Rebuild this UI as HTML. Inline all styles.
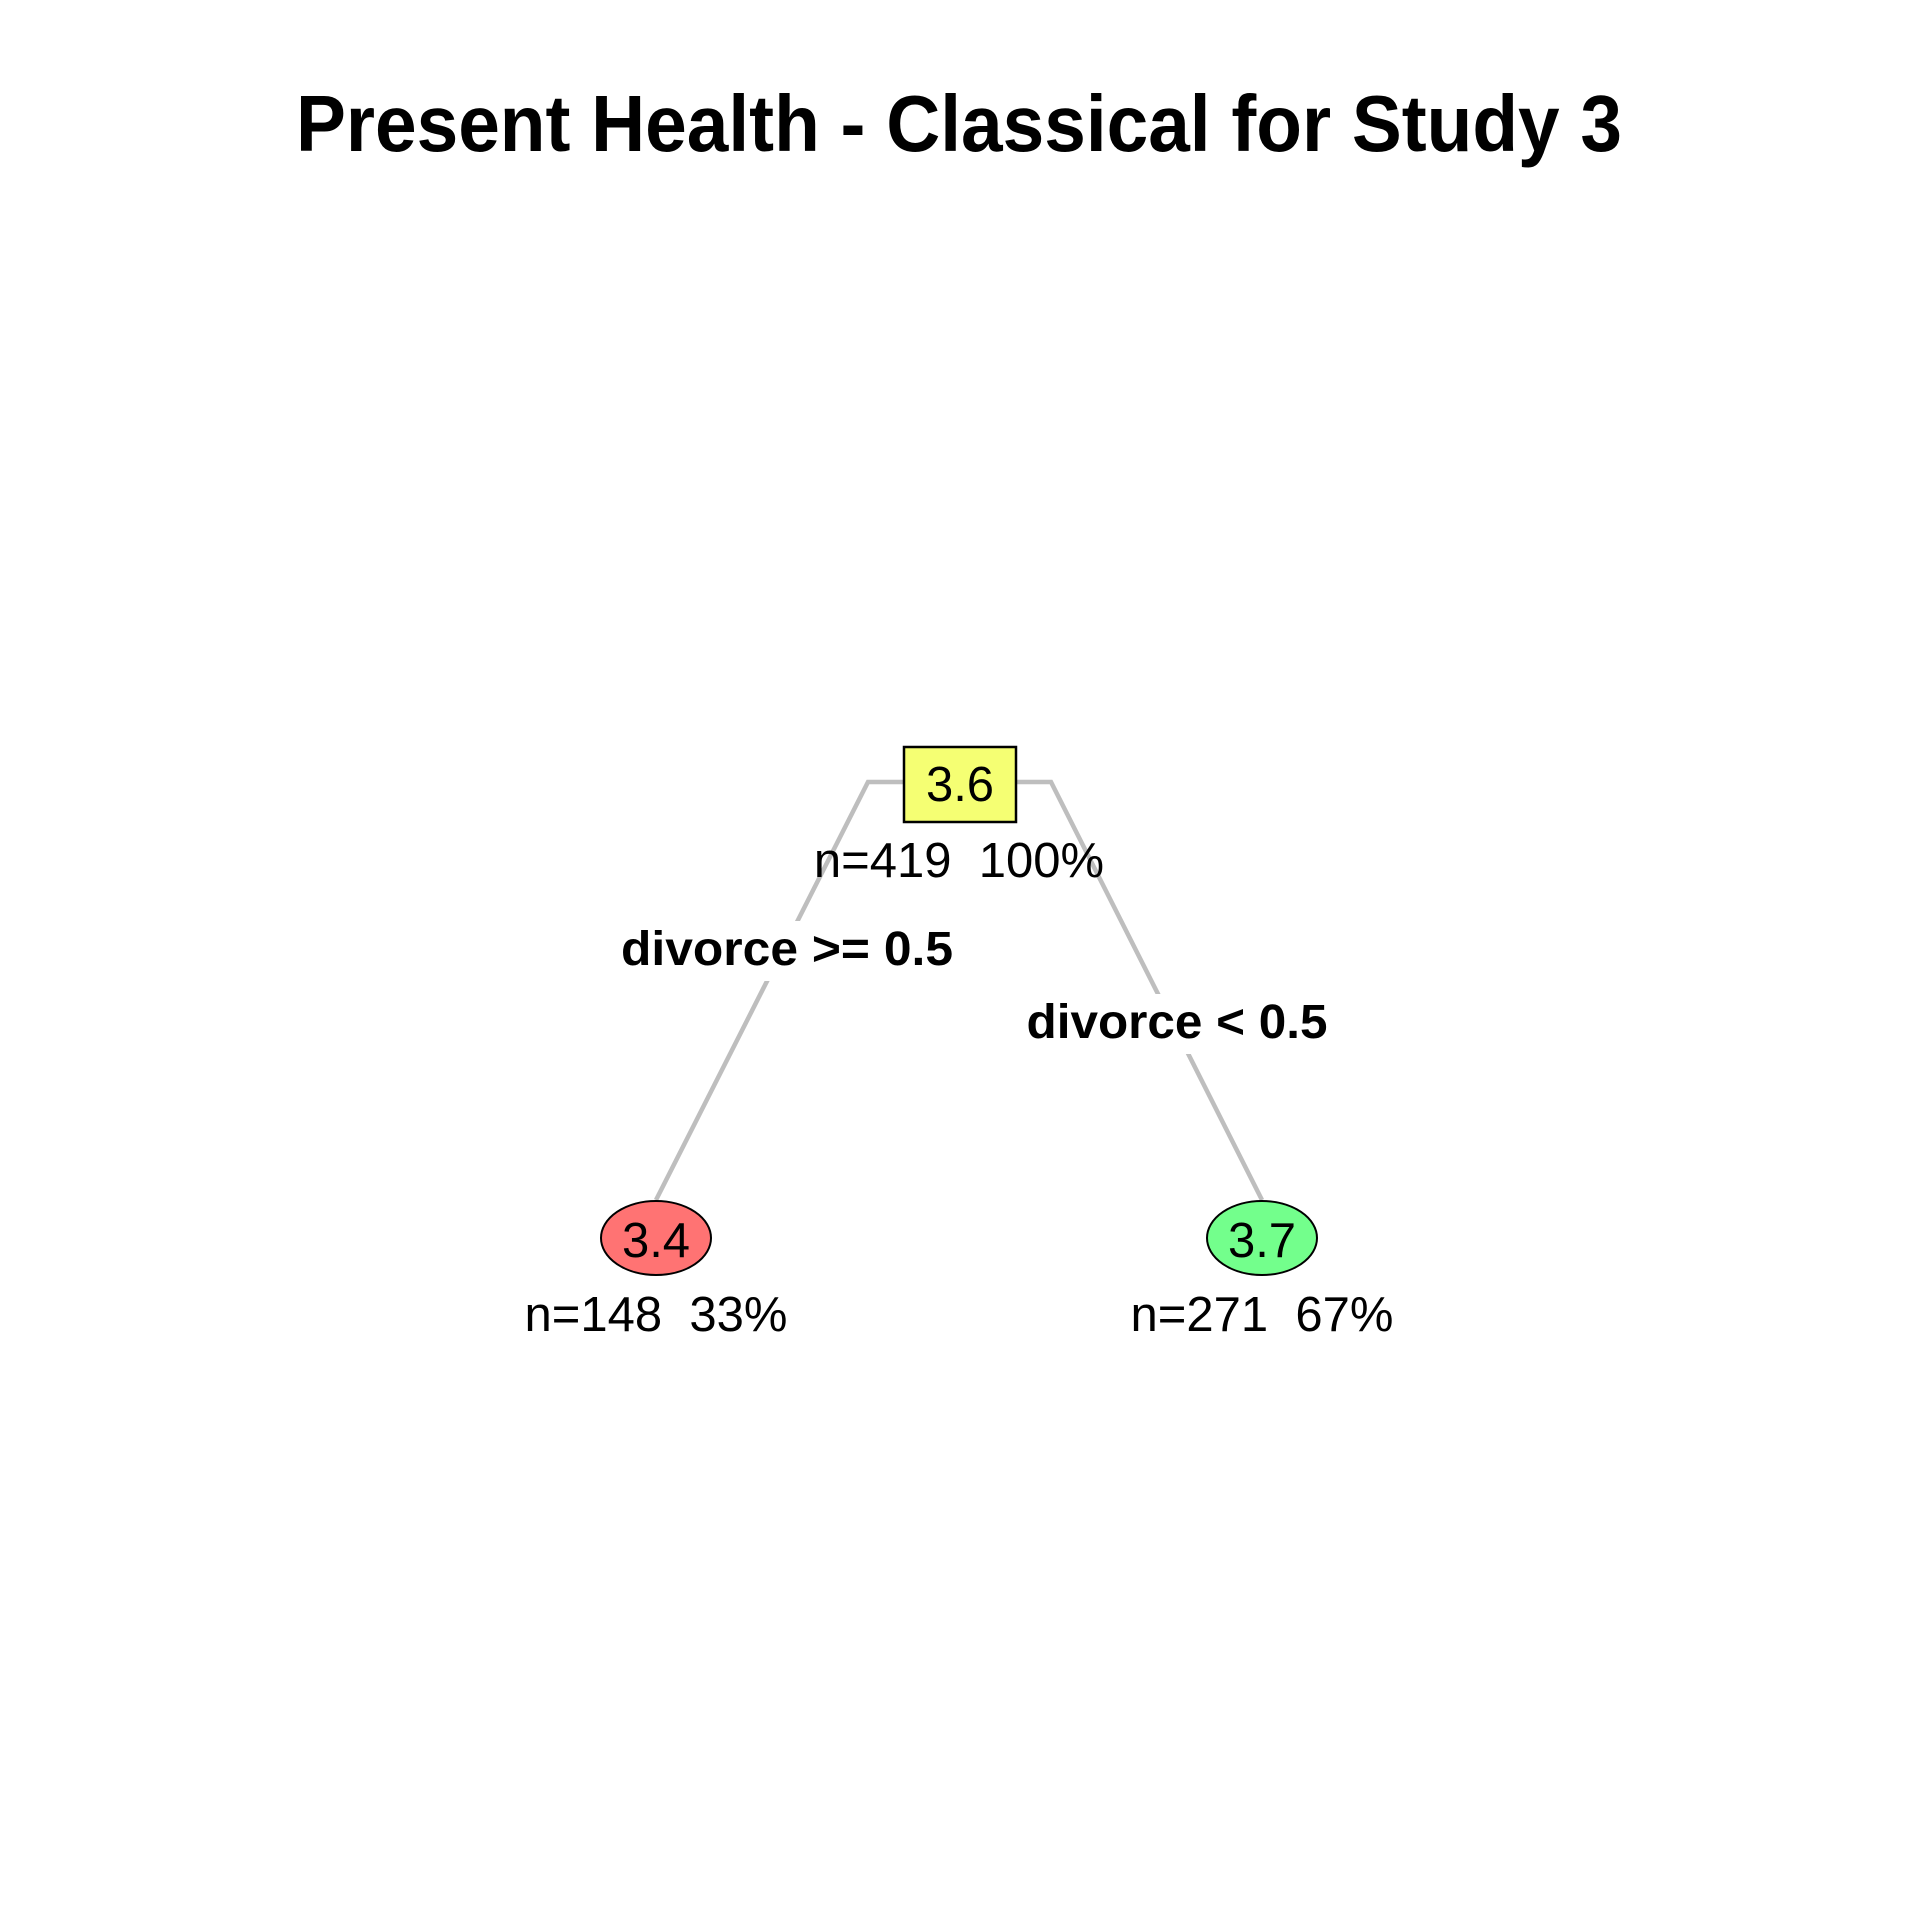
<!DOCTYPE html>
<html><head><meta charset="utf-8"><style>
html,body{margin:0;padding:0;background:#fff}
svg{display:block;font-family:"Liberation Sans",Arial,sans-serif}
</style></head><body>
<svg id="chart" width="1920" height="1920" viewBox="0 0 1920 1920">
<rect x="0" y="0" width="1920" height="1920" fill="#fff"/>
<text x="959" y="151" text-anchor="middle" font-size="80" font-weight="bold" textLength="1326" lengthAdjust="spacingAndGlyphs">Present Health - Classical for Study 3</text>
<g id="edges"></g>
<g id="nodes"></g>
</svg>
<script>
const nodeValues = ["3.6", "3.4", "3.7"];
const nodeCounts = [419, 148, 271];
const nodePercents = ["100%", "33%", "67%"];
const nodeColors = ["#F5FF73", "#FF7373", "#73FF8C"];
const splitLabels = ["divorce >= 0.5", "divorce < 0.5"];

const NS = "http://www.w3.org/2000/svg";
function mk(tag, attrs, parent){const e=document.createElementNS(NS,tag);for(const k in attrs)e.setAttribute(k,attrs[k]);parent.appendChild(e);return e;}
const edges=document.getElementById('edges'), nodes=document.getElementById('nodes');
const root={x:959,y:782}, leaves=[{x:656,y:1238},{x:1262,y:1238}];
const shoulderX=[868,1051], leafTop=1200;
for(let i=0;i<2;i++){
  const p=mk('polyline',{points:`${root.x},${root.y} ${shoulderX[i]},${root.y} ${leaves[i].x},${leafTop}`,fill:'none',stroke:'#BEBEBE','stroke-width':4.5},edges);
  
  
}
const splitPos=[{x:787,y:965},{x:1177,y:1038}];
const splitW=[332,301];
for(let i=0;i<2;i++){
  const bg=mk('rect',{x:splitPos[i].x-175,y:splitPos[i].y-44,width:350,height:60,fill:'#fff'},edges);
  
  
  const t=mk('text',{x:splitPos[i].x,y:splitPos[i].y,'text-anchor':'middle','font-size':48,'font-weight':'bold',textLength:splitW[i],lengthAdjust:'spacingAndGlyphs'},nodes);
  t.textContent=splitLabels[i];
  
  
}
const nbg=mk('rect',{x:root.x-80,y:root.y+46,width:160,height:48,fill:'#fff'},edges);


const rb=mk('rect',{x:904,y:747,width:112,height:75,fill:nodeColors[0],stroke:'#000','stroke-width':2.5},nodes);


const rt=mk('text',{x:root.x+1,y:801,'text-anchor':'middle','font-size':49},nodes);
rt.textContent=nodeValues[0];


const ri=mk('text',{x:root.x,y:877,'text-anchor':'middle','font-size':49},nodes);
ri.textContent=`n=${nodeCounts[0]}\u00a0\u00a0${nodePercents[0]}`;


for(let i=0;i<2;i++){
  const L=leaves[i];
  const e=mk('ellipse',{cx:L.x,cy:L.y,rx:55,ry:37,fill:nodeColors[i+1],stroke:'#000','stroke-width':2},nodes);
  
  
  const t=mk('text',{x:L.x,y:L.y+19,'text-anchor':'middle','font-size':49},nodes);
  t.textContent=nodeValues[i+1];
  
  
  const s=mk('text',{x:L.x,y:1331,'text-anchor':'middle','font-size':49},nodes);
  s.textContent=`n=${nodeCounts[i+1]}\u00a0\u00a0${nodePercents[i+1]}`;
  
  
}
</script>
</body></html>
